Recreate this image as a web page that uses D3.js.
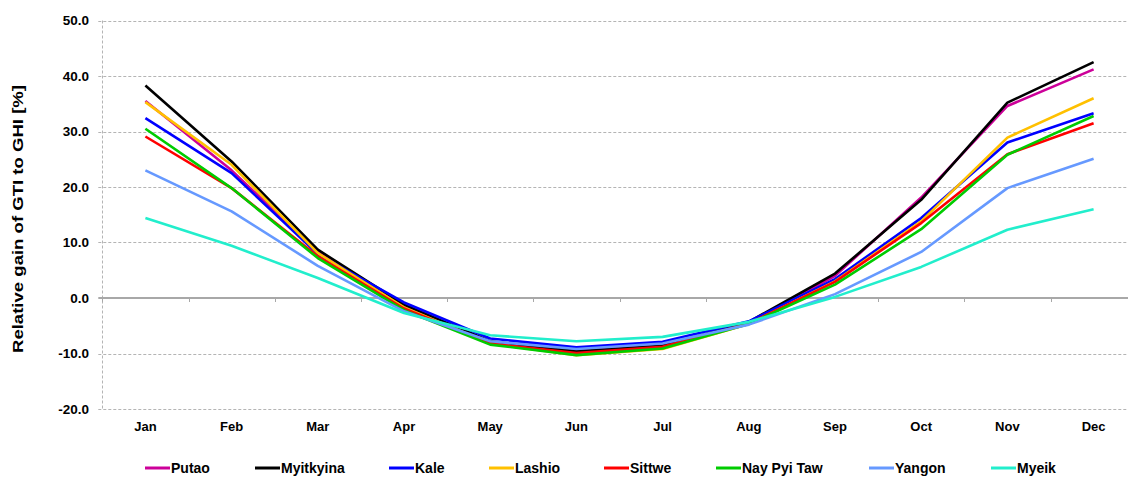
<!DOCTYPE html>
<html>
<head>
<meta charset="utf-8">
<script src="https://cdn.jsdelivr.net/npm/d3@7"></script>
<style>
  body { margin: 0; background: #fff; }
  svg text { font-family: Arial, "Liberation Sans", sans-serif; font-weight: bold; fill: #000; }
</style>
</head>
<body>
<div id="chart"></div>
<script>
// ===== Data =====
const months = ["Jan","Feb","Mar","Apr","May","Jun","Jul","Aug","Sep","Oct","Nov","Dec"];
const stations = ["Putao","Myitkyina","Kale","Lashio","Sittwe","Nay Pyi Taw","Yangon","Myeik"];
const colors = ["#cc0099","#000000","#0000ff","#ffc000","#ff0000","#00cc00","#6699ff","#22eecc"];
const yTicks = [-20, -10, 0, 10, 20, 30, 40, 50];

const putao     = [35.5, 23.0, 8.3, -1.6, -8.0, -9.4, -8.5, -4.6, 4.0, 18.1, 34.6, 41.2];
const myitkyina = [38.3, 24.6, 8.7, -1.2, -7.8, -9.6, -8.6, -4.3, 4.4, 17.7, 35.2, 42.5];
const kale      = [32.4, 22.5, 7.9, -0.8, -7.3, -8.9, -7.9, -4.2, 3.4, 14.4, 28.0, 33.3];
const lashio    = [35.3, 24.0, 8.1, -1.7, -8.2, -10.3, -9.2, -4.7, 3.0, 13.8, 28.9, 36.0];
const sittwe    = [29.1, 19.8, 7.5, -1.9, -8.2, -9.9, -8.8, -4.6, 2.9, 13.5, 25.9, 31.5];
const nayPyiTaw = [30.5, 19.8, 7.2, -2.2, -8.4, -10.3, -9.1, -4.7, 2.4, 12.4, 25.8, 32.8];
const yangon    = [23.0, 15.6, 5.8, -2.4, -7.8, -9.2, -8.2, -4.8, 0.7, 8.3, 19.8, 25.1];
const myeik     = [14.4, 9.4, 3.6, -2.7, -6.7, -7.8, -7.0, -4.3, 0.2, 5.6, 12.3, 16.0];

const seriesValues = [putao, myitkyina, kale, lashio, sittwe, nayPyiTaw, yangon, myeik];

// legend item left positions (line start)
const legendX = [145, 255, 389, 489, 604, 716, 869, 991];

// ===== Chart =====
const W = 1128, H = 477;
const plotLeft = 102.3, plotRight = 1136.7, plotTop = 20.5, plotBottom = 409;

const svg = d3.select("#chart").append("svg")
    .attr("width", W).attr("height", H);

const x = d3.scaleBand().domain(months).range([plotLeft, plotRight]);
const y = d3.scaleLinear().domain([-20, 50]).range([plotBottom, plotTop]);

// gridlines
svg.append("g").selectAll("line")
    .data(yTicks.filter(d => d !== 0))
    .enter().append("line")
    .attr("x1", plotLeft - 4).attr("x2", W)
    .attr("y1", d => Math.round(y(d)) + 0.5).attr("y2", d => Math.round(y(d)) + 0.5)
    .attr("stroke", "#b4b4b4").attr("stroke-dasharray", "3,2");

// left border (dashed)
svg.append("line")
    .attr("x1", Math.round(plotLeft) + 0.5).attr("x2", Math.round(plotLeft) + 0.5)
    .attr("y1", plotTop).attr("y2", plotBottom)
    .attr("stroke", "#b4b4b4").attr("stroke-dasharray", "3,2");

// y tick labels
svg.append("g").selectAll("text")
    .data(yTicks)
    .enter().append("text")
    .attr("x", 89).attr("y", d => y(d))
    .attr("dy", "0.35em")
    .attr("text-anchor", "end")
    .style("font-size", "13.5px")
    .text(d => d.toFixed(1));

// zero axis line with category ticks
const y0 = Math.round(y(0));
svg.append("line")
    .attr("x1", plotLeft - 4).attr("x2", W)
    .attr("y1", y0).attr("y2", y0)
    .attr("stroke", "#a8a8a8").attr("stroke-width", 2);

svg.append("g").selectAll("line")
    .data(months)
    .enter().append("line")
    .attr("x1", d => Math.round(x(d)) + 0.5).attr("x2", d => Math.round(x(d)) + 0.5)
    .attr("y1", y0).attr("y2", y0 + 4)
    .attr("stroke", "#a8a8a8");

// month labels
svg.append("g").selectAll("text")
    .data(months)
    .enter().append("text")
    .attr("x", d => x(d) + x.bandwidth() / 2)
    .attr("y", 431)
    .attr("text-anchor", "middle")
    .style("font-size", "13px")
    .text(d => d);

// y axis title
svg.append("text")
    .attr("transform", "translate(23,219) rotate(-90)")
    .attr("text-anchor", "middle")
    .attr("textLength", 268)
    .attr("lengthAdjust", "spacingAndGlyphs")
    .style("font-size", "14.5px")
    .text("Relative gain of GTI to GHI [%]");

// lines
const line = d3.line()
    .x((d, i) => x(months[i]) + x.bandwidth() / 2)
    .y(d => y(d));

svg.append("g").selectAll("path")
    .data(seriesValues)
    .enter().append("path")
    .attr("d", d => line(d))
    .attr("fill", "none")
    .attr("stroke", (d, i) => colors[i])
    .attr("stroke-width", 2.6)
    .attr("stroke-linejoin", "round");

// legend
const legend = svg.append("g").selectAll("g")
    .data(stations)
    .enter().append("g")
    .attr("transform", (d, i) => `translate(${legendX[i]},468)`);

legend.append("line")
    .attr("x1", 0).attr("x2", 25)
    .attr("stroke", (d, i) => colors[i])
    .attr("stroke-width", 3);

legend.append("text")
    .attr("x", 26).attr("dy", "0.35em")
    .style("font-size", "14px")
    .text(d => d);
</script>
</body>
</html>
